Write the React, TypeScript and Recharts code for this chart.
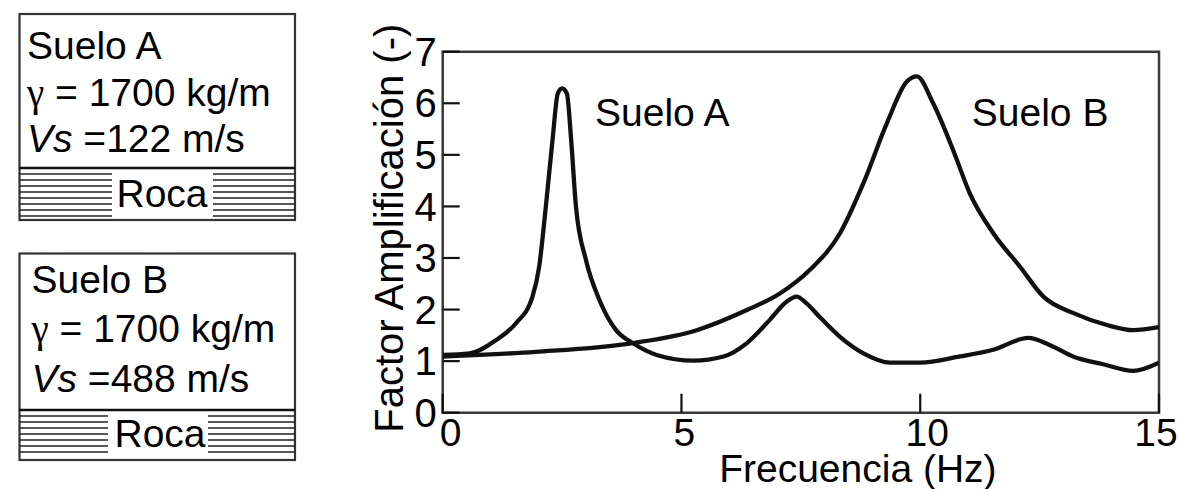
import React from 'react';
import { LineChart, Line, XAxis, YAxis, ReferenceArea, ReferenceDot } from 'recharts';

// Suelo A (Vs = 122 m/s)
const freqA = [0, 0.56, 1.12, 1.53, 1.88, 2.02, 2.16, 2.3, 2.41, 2.5, 2.6, 2.69, 2.79, 3.0, 3.28, 3.63, 3.98, 4.48, 5.25, 5.88, 6.37, 6.85, 7.2, 7.41, 7.62, 7.9, 8.32, 8.81, 9.37, 10.0, 10.83, 11.53, 12.26, 12.72, 13.2, 13.83, 14.46, 15.0];
const ampA = [1.12, 1.15, 1.41, 1.73, 2.25, 2.83, 4.0, 5.29, 6.19, 6.29, 6.19, 5.29, 4.0, 2.96, 2.19, 1.6, 1.35, 1.12, 1.01, 1.09, 1.35, 1.8, 2.15, 2.25, 2.12, 1.85, 1.47, 1.15, 0.97, 0.97, 1.09, 1.22, 1.45, 1.31, 1.09, 0.94, 0.81, 0.97];

// Suelo B (Vs = 488 m/s)
const freqB = [0, 1.95, 3.98, 5.32, 6.37, 7.06, 7.69, 8.32, 8.81, 9.3, 9.72, 9.93, 10.27, 10.69, 11.04, 11.53, 12.09, 12.58, 13.21, 13.91, 14.46, 15.0];
const ampB = [1.09, 1.18, 1.35, 1.6, 1.99, 2.31, 2.77, 3.48, 4.45, 5.61, 6.42, 6.52, 6.0, 5.09, 4.25, 3.48, 2.83, 2.25, 1.93, 1.7, 1.6, 1.66];

const xTicks = [0, 5, 10, 15];
const yTicks = [0, 1, 2, 3, 4, 5, 6, 7];
const curveNames = ['Suelo A', 'Suelo B'];
const curveLabelFreq = [3.19, 11.08];
const curveLabelAmp = [5.56, 5.56];
const xTitle = 'Frecuencia (Hz)';
const yTitle = 'Factor Amplificación (-)';

const boxTitles = ['Suelo A', 'Suelo B'];
const boxGamma = ['1700 kg/m', '1700 kg/m'];
const boxVs = ['122 m/s', '488 m/s'];

const dataA = freqA.map((f, i) => ({ freq: f, amp: ampA[i] }));
const dataB = freqB.map((f, i) => ({ freq: f, amp: ampB[i] }));

const FONT = '"Liberation Sans", Arial, Helvetica, sans-serif';
const xTickShift = [8, 3, 7, -3];

type BoxGeom = { top: number; rock: number; bottom: number; gap1: number; gap2: number; tx: number; lines: number[]; rocaX: number; rocaY: number };

const boxGeoms: BoxGeom[] = [
  { top: 14, rock: 168, bottom: 220, gap1: 112, gap2: 213, tx: 27, lines: [59.3, 106, 151.7], rocaX: 116.5, rocaY: 206.7 },
  { top: 253.5, rock: 410, bottom: 460, gap1: 108, gap2: 208, tx: 31.5, lines: [293.3, 341.7, 391.7], rocaX: 114.5, rocaY: 446.7 },
];

function SoilBox({ g, idx }: { g: BoxGeom; idx: number }) {
  const hatch: number[] = [];
  for (let y = g.rock + 6; y < g.bottom - 2; y += 6) hatch.push(y);
  return (
    <g>
      <rect x={19.5} y={g.top} width={275.5} height={g.bottom - g.top} fill="#fff" stroke="#333" strokeWidth={2.2} />
      <line x1={19.5} x2={295} y1={g.rock} y2={g.rock} stroke="#111" strokeWidth={2.6} />
      {hatch.map((y) => (
        <line key={y} x1={19.5} x2={295} y1={y} y2={y} stroke="#222" strokeWidth={1.4} />
      ))}
      <rect x={g.gap1} y={g.rock + 3} width={g.gap2 - g.gap1} height={g.bottom - g.rock - 5} fill="#fff" />
      <text x={g.tx} y={g.lines[0]} fontFamily={FONT} fontSize={39} fill="#000">{boxTitles[idx]}</text>
      <text x={g.tx} y={g.lines[1]} fontFamily={FONT} fontSize={39} fill="#000">
        <tspan fontFamily='"Liberation Serif", "Times New Roman", serif'>γ</tspan>
        <tspan>{' = ' + boxGamma[idx]}</tspan>
      </text>
      <text x={g.tx} y={g.lines[2]} fontFamily={FONT} fontSize={39} fill="#000">
        <tspan fontStyle="italic">Vs</tspan>
        <tspan>{' =' + boxVs[idx]}</tspan>
      </text>
      <text x={g.rocaX} y={g.rocaY} fontFamily={FONT} fontSize={39} fill="#000">Roca</text>
    </g>
  );
}

const curveLabel = (name: string) => (props: any) => {
  const vb = props.viewBox || {};
  return (
    <text x={vb.x} y={vb.y} fontFamily={FONT} fontSize={39} fill="#000">{name}</text>
  );
};

const yTitleContent = (props: any) => {
  const vb = props.viewBox || {};
  const x = vb.x + 20.5;
  const y = vb.y + vb.height / 2 - 4;
  return (
    <text transform={`translate(${x}, ${y}) rotate(-90)`} textAnchor="middle" fontFamily={FONT} fontSize={40} fill="#000">{yTitle}</text>
  );
};

const xTitleContent = (props: any) => {
  const vb = props.viewBox || {};
  const x = vb.x + vb.width / 2 + 57;
  const y = vb.y + 69;
  return (
    <text x={x} y={y} textAnchor="middle" fontFamily={FONT} fontSize={39} fill="#000">{xTitle}</text>
  );
};

const XTick = (props: any) => {
  const v = props.payload?.value;
  const i = xTicks.indexOf(v);
  const shift = i >= 0 ? xTickShift[i] : 0;
  return (
    <text x={props.x + shift} y={props.y} dy="0.71em" textAnchor="middle" fontFamily={FONT} fontSize={39} fill="#000">{v}</text>
  );
};

export default function App() {
  return (
    <div style={{ position: 'absolute', left: 0, top: 0, width: 1178, height: 489, background: '#fff', overflow: 'hidden' }}>
      <svg width={300} height={489} style={{ position: 'absolute', left: 0, top: 0 }}>
        {boxGeoms.map((g, i) => (
          <SoilBox key={i} g={g} idx={i} />
        ))}
      </svg>
      <div style={{ position: 'absolute', left: 0, top: 0 }}>
        <LineChart width={1178} height={489} margin={{ top: 51.7, right: 19, bottom: 0.3, left: 382.7 }}>
          <XAxis
            type="number"
            dataKey="freq"
            domain={[0, 15]}
            ticks={xTicks}
            interval={0}
            height={76}
            axisLine={false}
            tickSize={-19}
            tickMargin={25}
            tickLine={{ stroke: '#111', strokeWidth: 2.2 }}
            tick={<XTick />}
            label={{ content: xTitleContent }}
            allowDataOverflow
          />
          <YAxis
            type="number"
            dataKey="amp"
            domain={[0, 7]}
            ticks={yTicks}
            interval={0}
            width={60}
            axisLine={false}
            tickSize={-17}
            tickMargin={23}
            tickLine={{ stroke: '#111', strokeWidth: 2.2 }}
            tick={{ fontSize: 40, fill: '#000', fontFamily: FONT }}
            label={{ content: yTitleContent }}
            allowDataOverflow
          />
          <ReferenceArea x1={0} x2={15} y1={0} y2={7} fill="none" fillOpacity={0} stroke="#3a3a3a" strokeWidth={2.5} ifOverflow="visible" />
          <Line data={dataA} dataKey="amp" type="monotone" stroke="#111" strokeWidth={4.3} dot={false} isAnimationActive={false} strokeLinejoin="round" />
          <Line data={dataB} dataKey="amp" type="monotone" stroke="#111" strokeWidth={4.3} dot={false} isAnimationActive={false} strokeLinejoin="round" />
          {curveNames.map((n, i) => (
            <ReferenceDot key={n} x={curveLabelFreq[i]} y={curveLabelAmp[i]} r={0} fill="none" stroke="none" label={curveLabel(n)} />
          ))}
        </LineChart>
      </div>
    </div>
  );
}
